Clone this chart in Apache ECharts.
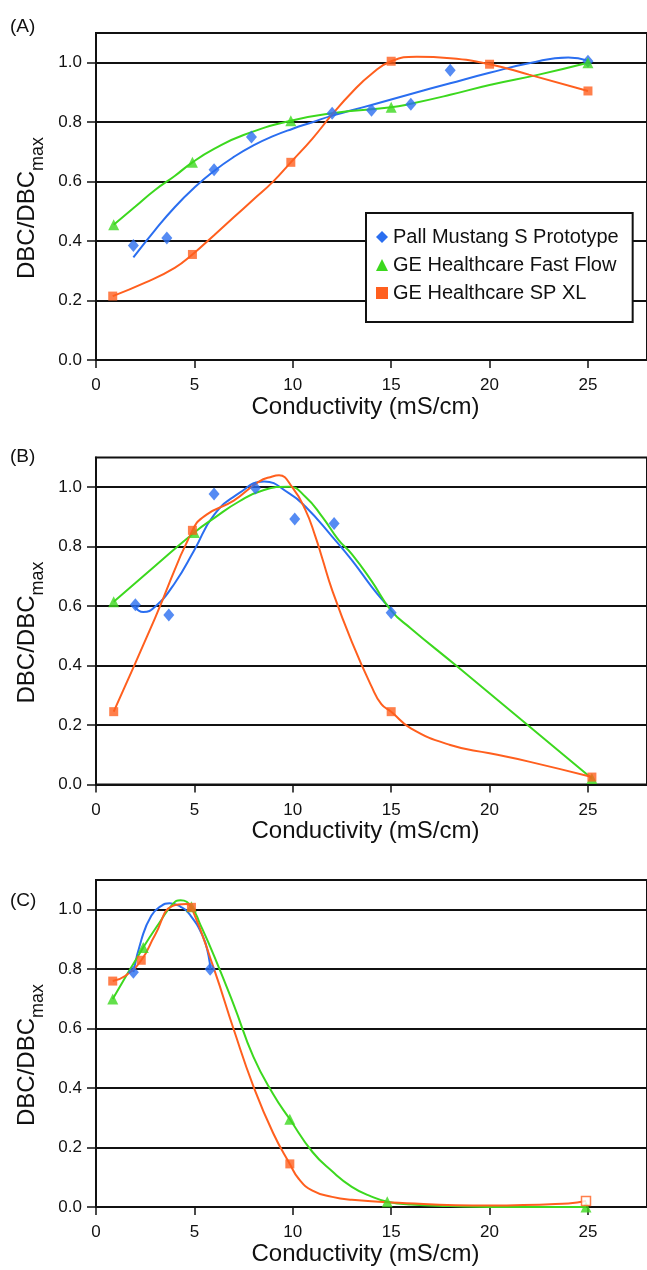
<!DOCTYPE html>
<html><head><meta charset="utf-8">
<script src="https://cdn.jsdelivr.net/npm/echarts@6/dist/echarts.min.js"></script>
<style>html,body{margin:0;padding:0;background:#fff}#c{width:647px;height:1270px}</style>
</head><body><div id="c"></div>
<script>
// ---- labels ----
const seriesNames = ['Pall Mustang S Prototype', 'GE Healthcare Fast Flow', 'GE Healthcare SP XL'];
const panelLabels = ['(A)', '(B)', '(C)'];
const xAxisTitle = 'Conductivity (mS/cm)';
const xTicks = [0, 5, 10, 15, 20, 25];
const yTicks = [0, 0.2, 0.4, 0.6, 0.8, 1.0];

// ---- Panel A ----
const A_pall_pts = [[1.9,0.385],[3.6,0.41],[6.0,0.64],[7.9,0.75],[12.0,0.83],[14.0,0.84],[16.0,0.86],[18.0,0.975],[25.0,1.005]];
const A_pall_fit = [[1.9,0.345],[3,0.437],[4,0.514],[5,0.58],[6,0.636],[7,0.683],[8,0.722],[9,0.753],[10,0.778],[11,0.8],[12,0.822],[13,0.84],[14,0.858],[16,0.895],[18,0.931],[20,0.966],[22,0.998],[24,1.018],[25,1.007]];
const A_ff_pts = [[0.9,0.455],[4.9,0.665],[9.9,0.805],[15.0,0.85],[25.0,1.0]];
const A_ff_fit = [[0.9,0.455],[2,0.516],[3,0.572],[4,0.619],[4.9,0.665],[6,0.71],[7.5,0.757],[9.9,0.805],[12,0.83],[15,0.85],[16,0.862],[18,0.892],[20,0.925],[22.5,0.96],[25,1.0]];
const A_sp_pts = [[0.85,0.215],[4.9,0.355],[9.9,0.665],[15.0,1.005],[20.0,0.995],[25.0,0.905]];
const A_sp_fit = [[0.85,0.215],[2.5,0.26],[4,0.31],[4.9,0.355],[6,0.42],[7,0.48],[8,0.54],[9,0.6],[9.9,0.665],[11,0.745],[12,0.826],[13,0.9],[14,0.962],[15,1.005],[16.3,1.02],[18,1.015],[20,0.995],[22,0.96],[25,0.905]];

// ---- Panel B ----
const B_pall_pts = [[2.0,0.605],[3.7,0.57],[6.0,0.977],[8.1,0.997],[10.1,0.893],[12.1,0.878],[15.0,0.578]];
const B_pall_fit = [[1.95,0.6],[2.4,0.58],[3,0.598],[4,0.677],[5,0.789],[6,0.907],[7.27,0.98],[8.54,1.019],[9.8,0.98],[10.64,0.935],[12,0.834],[13,0.755],[14,0.666],[14.7,0.61],[15.0,0.59]];
const B_ff_pts = [[0.9,0.615],[5.0,0.848],[25.2,0.02]];
const B_ff_fit = [[0.9,0.615],[3,0.735],[5.0,0.848],[6,0.896],[7.27,0.952],[8.5,0.99],[9.8,1.002],[10.64,0.968],[11.5,0.9],[12.32,0.823],[13,0.775],[14,0.685],[15,0.585],[16,0.525],[18.3,0.40],[25.2,0.02]];
const B_sp_pts = [[0.9,0.245],[4.9,0.855],[15.0,0.245],[25.2,0.025]];
const B_sp_fit = [[0.9,0.245],[3,0.56],[4.9,0.855],[5.6,0.907],[7,0.955],[8.28,1.019],[8.96,1.036],[9.3,1.04],[9.97,1.0],[10.64,0.924],[11.15,0.834],[11.5,0.76],[12,0.654],[13,0.48],[14,0.33],[14.5,0.27],[15,0.245],[16,0.189],[18,0.133],[20,0.105],[22,0.077],[25.2,0.025]];

// ---- Panel C ----
const C_pall_pts = [[1.9,0.79],[5.8,0.80]];
const C_pall_fit = [[1.9,0.79],[2.31,0.90],[2.81,0.98],[3.3,1.012],[3.74,1.022],[4.3,1.01],[4.75,0.985],[5.42,0.912],[5.72,0.845],[5.8,0.80]];
const C_ff_pts = [[0.85,0.70],[2.4,0.873],[4.85,1.01],[9.85,0.295],[14.8,0.018],[24.9,0.0]];
const C_ff_fit = [[0.85,0.70],[2.4,0.873],[3.23,0.957],[3.9,1.019],[4.3,1.032],[4.85,1.01],[5.3,0.95],[6,0.845],[7,0.68],[8,0.505],[9,0.38],[9.85,0.295],[11,0.185],[12,0.12],[13,0.068],[14,0.035],[14.8,0.018],[16,0.008],[18,0.003],[20,0.0],[24.9,0.0]];
const C_sp_pts = [[0.85,0.76],[2.3,0.83],[4.85,1.008],[9.85,0.145],[24.9,0.02]];
const C_sp_fit = [[0.85,0.76],[1.5,0.778],[2.3,0.83],[3.0,0.915],[3.9,1.013],[4.58,1.019],[4.85,1.008],[6,0.80],[7,0.597],[8,0.406],[9,0.249],[9.85,0.145],[10.3,0.095],[11,0.055],[12,0.034],[13,0.024],[15,0.015],[20,0.005],[24,0.012],[24.9,0.02]];

// ---- styling ----
const colors = ['#2a6ef0', '#3cd81e', '#ff5f1e'];
const symbols = ['diamond', 'triangle', 'rect'];
const symbolSizes = [[11, 13], 11, 9];
const FONT = '"Liberation Sans", Arial, Helvetica, sans-serif';
const INK = '#111';
const gridPos = [{top: 33, bottom: 910}, {top: 457.5, bottom: 485.5}, {top: 880, bottom: 63}];
const labelTops = [17, 447, 891];

const panels = [
  {pts: [A_pall_pts, A_ff_pts, A_sp_pts], fit: [A_pall_fit, A_ff_fit, A_sp_fit]},
  {pts: [B_pall_pts, B_ff_pts, B_sp_pts], fit: [B_pall_fit, B_ff_fit, B_sp_fit]},
  {pts: [C_pall_pts, C_ff_pts, C_sp_pts], fit: [C_pall_fit, C_ff_fit, C_sp_fit]}
];

const grid = [], xAxis = [], yAxis = [], series = [], graphic = [];
panels.forEach((p, gi) => {
  grid.push({left: 96, right: -3.4, top: gridPos[gi].top, bottom: gridPos[gi].bottom,
    show: true, borderColor: INK, borderWidth: 2, backgroundColor: 'transparent'});
  xAxis.push({type: 'value', gridIndex: gi, min: 0, max: 28, interval: 5,
    name: xAxisTitle, nameLocation: 'middle', nameGap: 27,
    nameTextStyle: {fontFamily: FONT, fontSize: 24, color: INK, padding: [0, 12, 0, 0]},
    axisLine: {show: true, onZero: false, lineStyle: {color: INK, width: 2}},
    axisTick: {show: true, length: 8, lineStyle: {color: INK, width: 1.5}, customValues: xTicks},
    axisLabel: {fontFamily: FONT, fontSize: 17, color: INK, margin: 17, customValues: xTicks},
    splitLine: {show: false}});
  yAxis.push({type: 'value', gridIndex: gi, min: 0, max: 1.1, interval: 0.2,
    name: '{a|DBC/DBC}{b|max}', nameLocation: 'middle', nameGap: 47, nameRotate: 90,
    nameTextStyle: {fontFamily: FONT, color: INK, padding: [0, 23, 0, 0],
      rich: {a: {fontFamily: FONT, fontSize: 24, lineHeight: 40, color: INK},
             b: {fontFamily: FONT, fontSize: 18, lineHeight: 18, verticalAlign: 'bottom', color: INK}}},
    axisLine: {show: true, lineStyle: {color: INK, width: 2}},
    axisTick: {show: true, length: 9, lineStyle: {color: INK, width: 1.5}, customValues: yTicks},
    axisLabel: {fontFamily: FONT, fontSize: 17, color: INK, margin: 14, customValues: yTicks,
      formatter: v => v.toFixed(1)},
    splitLine: {show: true, lineStyle: {color: INK, width: 2}}});
  graphic.push({type: 'text', left: 10, top: labelTops[gi],
    style: {text: panelLabels[gi], font: '19px ' + FONT, fill: INK}});
  for (let k = 0; k < 3; k++) {
    series.push({type: 'line', name: seriesNames[k], xAxisIndex: gi, yAxisIndex: gi,
      data: p.fit[k], smooth: 0.5, symbol: 'none', showSymbol: false, silent: true,
      lineStyle: {color: colors[k], width: 2}, itemStyle: {color: colors[k]}, z: 3, animation: false});
    const last = p.pts[k].length - 1;
    const hollowLast = (gi === 2 && k === 2);
    series.push({type: 'scatter', name: seriesNames[k], xAxisIndex: gi, yAxisIndex: gi,
      data: p.pts[k].map((pt, i) => (hollowLast && i === last)
        ? {value: pt, itemStyle: {color: '#fff', borderColor: colors[k], borderWidth: 1.5}} : pt),
      symbol: symbols[k], symbolSize: symbolSizes[k],
      itemStyle: {color: colors[k]}, z: 4, animation: false});
  }
});

const chart = echarts.init(document.getElementById('c'), null, {renderer: 'canvas'});
chart.setOption({
  backgroundColor: '#fff',
  animation: false,
  grid, xAxis, yAxis, series, graphic,
  legend: {
    data: seriesNames.map((n, k) => ({name: n, icon: symbols[k]})),
    orient: 'vertical', left: 366, top: 213,
    backgroundColor: '#fff', borderColor: INK, borderWidth: 2,
    padding: [14, 14, 19, 10], itemGap: 8, itemWidth: 12, itemHeight: 12,
    textStyle: {fontFamily: FONT, fontSize: 20, color: INK},
    selectedMode: false
  }
});
</script></body></html>
